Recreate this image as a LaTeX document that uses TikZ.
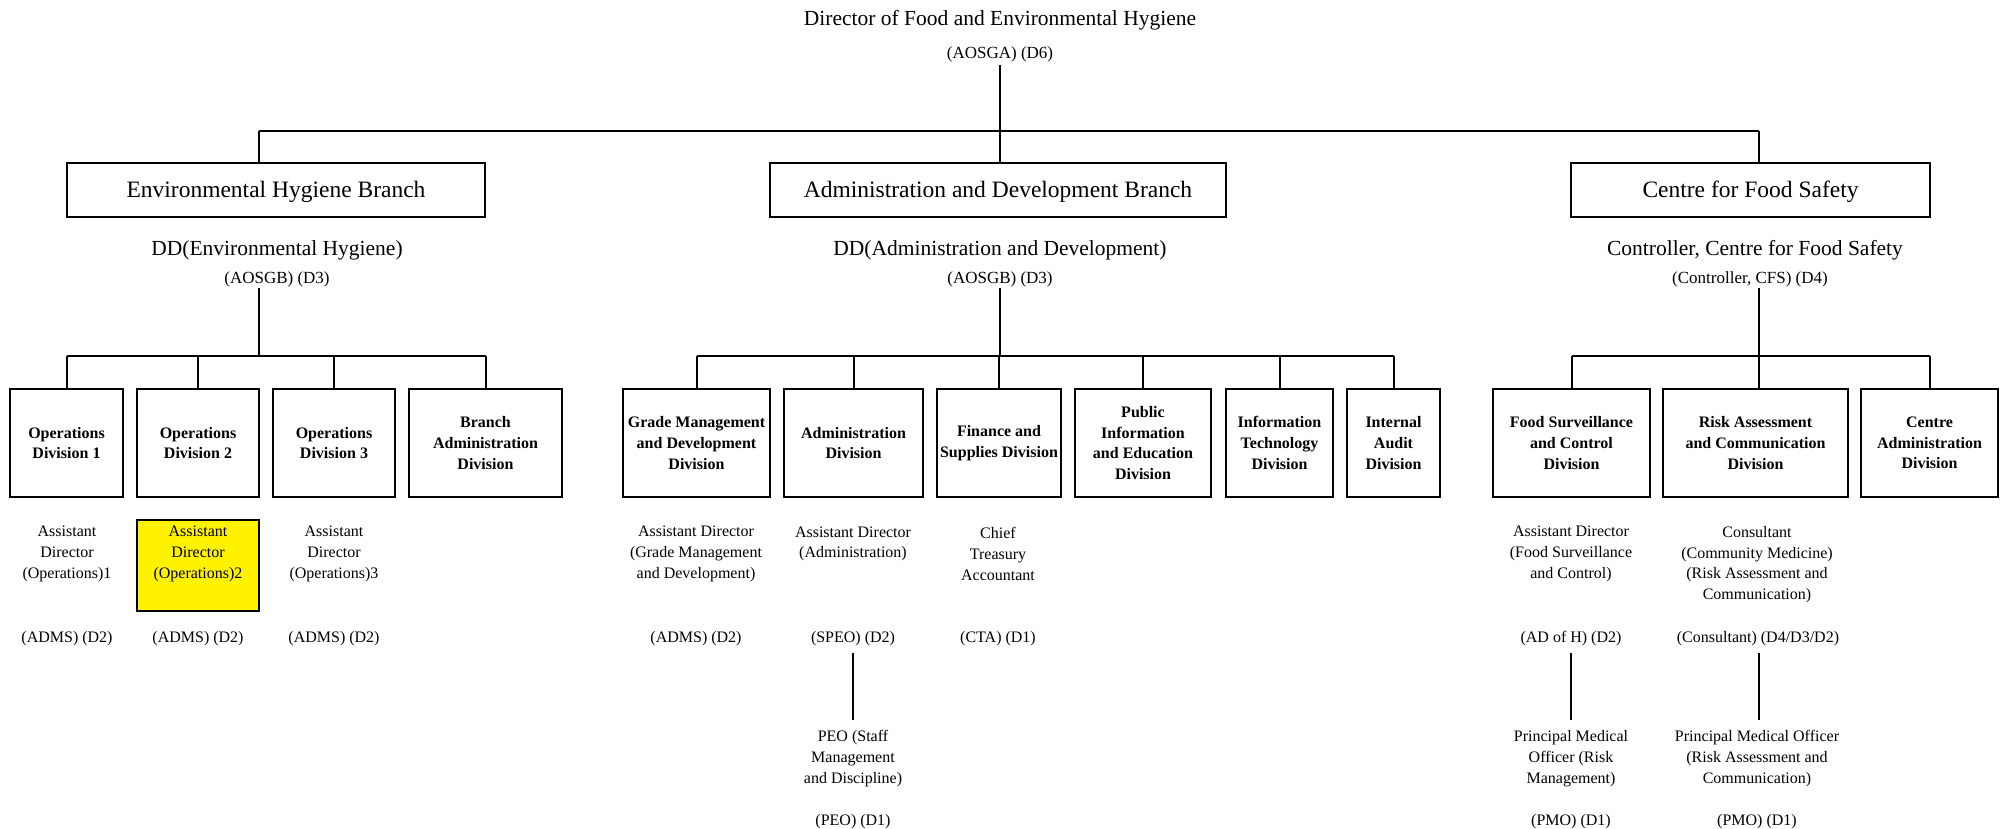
\documentclass[tikz,border=0pt]{standalone}
\usepackage{fontspec}
\setmainfont{Liberation Serif}
\begin{document}
\begin{tikzpicture}[x=1pt,y=-1pt,
  conn/.style={line width=2pt},
  divbox/.style={draw, line width=2pt, minimum height=108pt, inner sep=0pt, align=center, font=\fontsize{16}{20.7}\selectfont\bfseries},
  brbox/.style={draw, line width=2pt, minimum height=54pt, inner sep=0pt, text height=21pt, text depth=5.2pt, font=\fontsize{23.5}{28}\selectfont},
  small/.style={inner sep=0pt, align=center, yshift=-2.5pt, font=\fontsize{16}{20.7}\selectfont},
  head/.style={inner sep=0pt, yshift=-2.5pt, font=\fontsize{21.5}{26}\selectfont},
  rank/.style={inner sep=0pt, yshift=-2pt, font=\fontsize{17}{20}\selectfont},
  ybox/.style={draw, line width=2pt, fill=yellow, minimum width=122pt, minimum height=91pt, inner sep=0pt}]
\useasboundingbox (0,0) rectangle (2000,829);

% top
\node[head] (dirname) at (1000,18) {Director of Food and Environmental Hygiene};
\node[rank] (dirrank) at (1000,52) {(AOSGA) (D6)};

% branches
\node[brbox, minimum width=418pt] (ehb) at (276,190) {Environmental Hygiene Branch};
\node[brbox, minimum width=456pt] (adb) at (998,190) {Administration and Development Branch};
\node[brbox, minimum width=359pt] (cfsb) at (1750.5,190) {Centre for Food Safety};

\node[head] (ehdd) at (277,248) {DD(Environmental Hygiene)};
\node[rank] (ehrank) at (277,277) {(AOSGB) (D3)};
\node[head] (addd) at (1000,248) {DD(Administration and Development)};
\node[rank] (adrank) at (1000,277) {(AOSGB) (D3)};
\node[head] (cfsdd) at (1755,248) {Controller, Centre for Food Safety};
\node[rank] (cfsrank) at (1750,277) {(Controller, CFS) (D4)};

% divisions
\node[divbox, minimum width=113pt] (op1) at (66.5,443) {Operations\\Division 1};
\node[divbox, minimum width=122pt] (op2) at (198,443) {Operations\\Division 2};
\node[divbox, minimum width=122pt] (op3) at (334,443) {Operations\\Division 3};
\node[divbox, minimum width=153pt] (bad) at (485.5,443) {Branch\\Administration\\Division};
\node[divbox, minimum width=147pt] (gmd) at (696.5,443) {Grade Management\\and Development\\Division};
\node[divbox, minimum width=139pt] (adm) at (853.5,443) {Administration\\Division};
\node[divbox, minimum width=124pt] (fin) at (999,443) {Finance and\\Supplies Division};
\node[divbox, minimum width=136pt] (pie) at (1143,443) {Public\\Information\\and Education\\Division};
\node[divbox, minimum width=107pt] (itd) at (1279.5,443) {Information\\Technology\\Division};
\node[divbox, minimum width=93pt] (iad) at (1393.5,443) {Internal\\Audit\\Division};
\node[divbox, minimum width=157pt] (fsc) at (1571.5,443) {Food Surveillance\\and Control\\Division};
\node[divbox, minimum width=185pt] (rac) at (1755.5,443) {Risk Assessment\\and Communication\\Division};
\node[divbox, minimum width=137pt] (cad) at (1929.5,443) {Centre\\Administration\\Division};

% officers
\node[small] (ad1) at (67,551.5) {Assistant\\Director\\(Operations)1};
\node[ybox] (ad2box) at (198,565.5) {};
\node[small] (ad2) at (198,551.5) {Assistant\\Director\\(Operations)2};
\node[small] (ad3) at (334,551.5) {Assistant\\Director\\(Operations)3};
\node[small] (r1) at (67,636) {(ADMS) (D2)};
\node[small] (r2) at (198,636) {(ADMS) (D2)};
\node[small] (r3) at (334,636) {(ADMS) (D2)};

\node[small] (gmdo) at (696,551.5) {Assistant Director\\(Grade Management\\and Development)};
\node[small] (gmdr) at (696,636) {(ADMS) (D2)};
\node[small] (admo) at (853,541.5) {Assistant Director\\(Administration)};
\node[small] (speo) at (853,636) {(SPEO) (D2)};
\node[small] (fino) at (998,551.5) {Chief\\Treasury\\Accountant};
\node[small] (cta) at (998,636) {(CTA) (D1)};
\node[small] (peo) at (853,756) {PEO (Staff\\Management\\and Discipline)};
\node[small] (peor) at (853,819) {(PEO) (D1)};

\node[small] (fsco) at (1571,551.5) {Assistant Director\\(Food Surveillance\\and Control)};
\node[small] (adh) at (1571,636) {(AD of H) (D2)};
\node[small] (raco) at (1757,562) {Consultant\\(Community Medicine)\\(Risk Assessment and\\Communication)};
\node[small] (cons) at (1758,636) {(Consultant) (D4/D3/D2)};
\node[small] (pmo1) at (1571,756) {Principal Medical\\Officer (Risk\\Management)};
\node[small] (pmo1r) at (1571,819) {(PMO) (D1)};
\node[small] (pmo2) at (1757,756) {Principal Medical Officer\\(Risk Assessment and\\Communication)};
\node[small] (pmo2r) at (1757,819) {(PMO) (D1)};

% coordinates for connector lines
\coordinate (dirstub) at (1000,65);
\coordinate (topbusL) at (259,131);
\coordinate (topbusR) at (1759,131);
\coordinate (ehstub) at (259,288);
\coordinate (ehbus) at (259,356);
\coordinate (adstub) at (1000,288);
\coordinate (adbus) at (1000,356);
\coordinate (cfsstub) at (1759,288);
\coordinate (cfsbus) at (1759,356);
\coordinate (admtop) at (853,653);
\coordinate (fsctop) at (1571,653);
\coordinate (ractop) at (1759,653);

% connectors
\draw[conn] (dirstub) -- (dirstub |- adb.north);
\draw[conn] (topbusL) -- (topbusR);
\draw[conn] (topbusL) -- (topbusL |- ehb.north);
\draw[conn] (topbusR) -- (topbusR |- cfsb.north);

\draw[conn] (ehstub) -- (ehbus);
\draw[conn] (op1.north |- ehbus) -- (bad.north |- ehbus);
\foreach \n in {op1,op2,op3,bad} \draw[conn] (\n.north |- ehbus) -- (\n.north);

\draw[conn] (adstub) -- (adbus);
\draw[conn] (gmd.north |- adbus) -- (iad.north |- adbus);
\foreach \n in {gmd,adm,fin,pie,itd,iad} \draw[conn] (\n.north |- adbus) -- (\n.north);

\draw[conn] (cfsstub) -- (cfsbus);
\draw[conn] (fsc.north |- cfsbus) -- (cad.north |- cfsbus);
\draw[conn] (fsc.north |- cfsbus) -- (fsc.north);
\draw[conn] (cfsbus) -- (cfsbus |- rac.north);
\draw[conn] (cad.north |- cfsbus) -- (cad.north);

\draw[conn] (admtop) -- ([yshift=10pt]peo.north -| admtop);
\draw[conn] (fsctop) -- ([yshift=10pt]pmo1.north -| fsctop);
\draw[conn] (ractop) -- ([yshift=10pt]pmo2.north -| ractop);
\end{tikzpicture}
\end{document}
